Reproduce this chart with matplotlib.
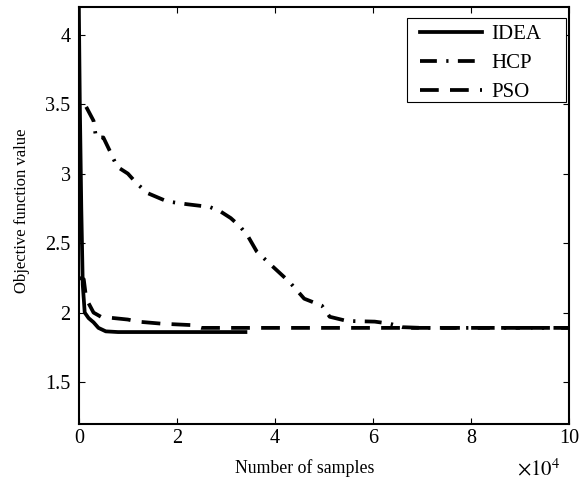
import matplotlib
matplotlib.use("Agg")
import matplotlib.pyplot as plt
from matplotlib.patches import Rectangle

plt.rcParams['font.family'] = ['Liberation Serif', 'DejaVu Serif']
plt.rcParams['mathtext.fontset'] = 'stix'

# IDEA (solid)
idea_x = [0, 0.02, 0.05, 0.08, 0.1, 0.12, 0.2, 0.3, 0.4, 0.55, 0.8, 3.4]
idea_y = [4.2, 3.5, 2.75, 2.2, 2.1, 2.0, 1.96, 1.93, 1.89, 1.865, 1.86, 1.86]

# HCP (dash-dot)
hcp_x = [0.15, 0.3, 0.35, 0.5, 0.65, 0.78, 1.0, 1.18, 1.4, 1.6, 1.8, 2.2, 2.67, 2.88,
         3.1, 3.29, 3.45, 3.63, 3.9, 4.3, 4.6, 4.96, 5.12, 5.47, 6.04, 6.35, 6.6, 7.0, 10.0]
hcp_y = [3.48, 3.38, 3.26, 3.26, 3.15, 3.05, 3.0, 2.93, 2.86, 2.83, 2.8, 2.78, 2.76, 2.73,
         2.68, 2.62, 2.55, 2.44, 2.35, 2.22, 2.1, 2.05, 1.97, 1.94, 1.935, 1.92, 1.895, 1.89, 1.89]

# PSO (dashed)
pso_x = [0, 0.1, 0.15, 0.3, 0.45, 1.0, 1.2, 1.7, 2.3, 2.5, 10.0]
pso_y = [2.25, 2.24, 2.1, 2.0, 1.97, 1.95, 1.935, 1.92, 1.91, 1.89, 1.89]

fig = plt.figure(figsize=(5.84, 4.86), dpi=100)
ax = fig.add_axes([0.135, 0.128, 0.839, 0.858])

ax.plot(idea_x, idea_y, color='black', linewidth=2.7, label='IDEA')
ax.plot(hcp_x, hcp_y, color='black', linewidth=2.7, linestyle=(0, (4.5, 2.5, 0.6, 2.5)), label='HCP')
ax.plot(pso_x, pso_y, color='black', linewidth=2.7, linestyle=(0, (5, 3)), label='PSO')

ax.set_xlim(0, 10)
ax.set_ylim(1.2, 4.2)
ax.set_xticks([0, 2, 4, 6, 8, 10])
ax.set_yticks([1.5, 2, 2.5, 3, 3.5, 4])
ax.set_yticklabels(['1.5', '2', '2.5', '3', '3.5', '4'])
ax.tick_params(direction='in', top=True, right=True, labelsize=14.5, length=4, width=0.8)
ax.tick_params(axis='y', pad=6)
for s in ax.spines.values():
    s.set_linewidth(1.5)
    s.set_zorder(6)

ax.set_xlabel('Number of samples', fontsize=12.8)
ax.xaxis.set_label_coords(0.46, -0.085)
ax.set_ylabel('Objective function value', fontsize=12)
ax.yaxis.set_label_coords(-0.10, 0.51)
fig.text(0.885, 0.022, r'$\times10^4$', fontsize=15)

# MATLAB-style legend box, wider than its content
ax.add_patch(Rectangle((0.669, 0.772), 0.326, 0.202, transform=ax.transAxes,
                       facecolor='white', edgecolor='black', linewidth=0.8, zorder=4))
leg = ax.legend(loc='upper left', bbox_to_anchor=(0.696, 0.957), borderaxespad=0,
                borderpad=0, fontsize=15, frameon=False, handlelength=3.0,
                handletextpad=0.45, labelspacing=0.45)
leg.set_zorder(5)

fig.savefig('out.png', dpi=100)
